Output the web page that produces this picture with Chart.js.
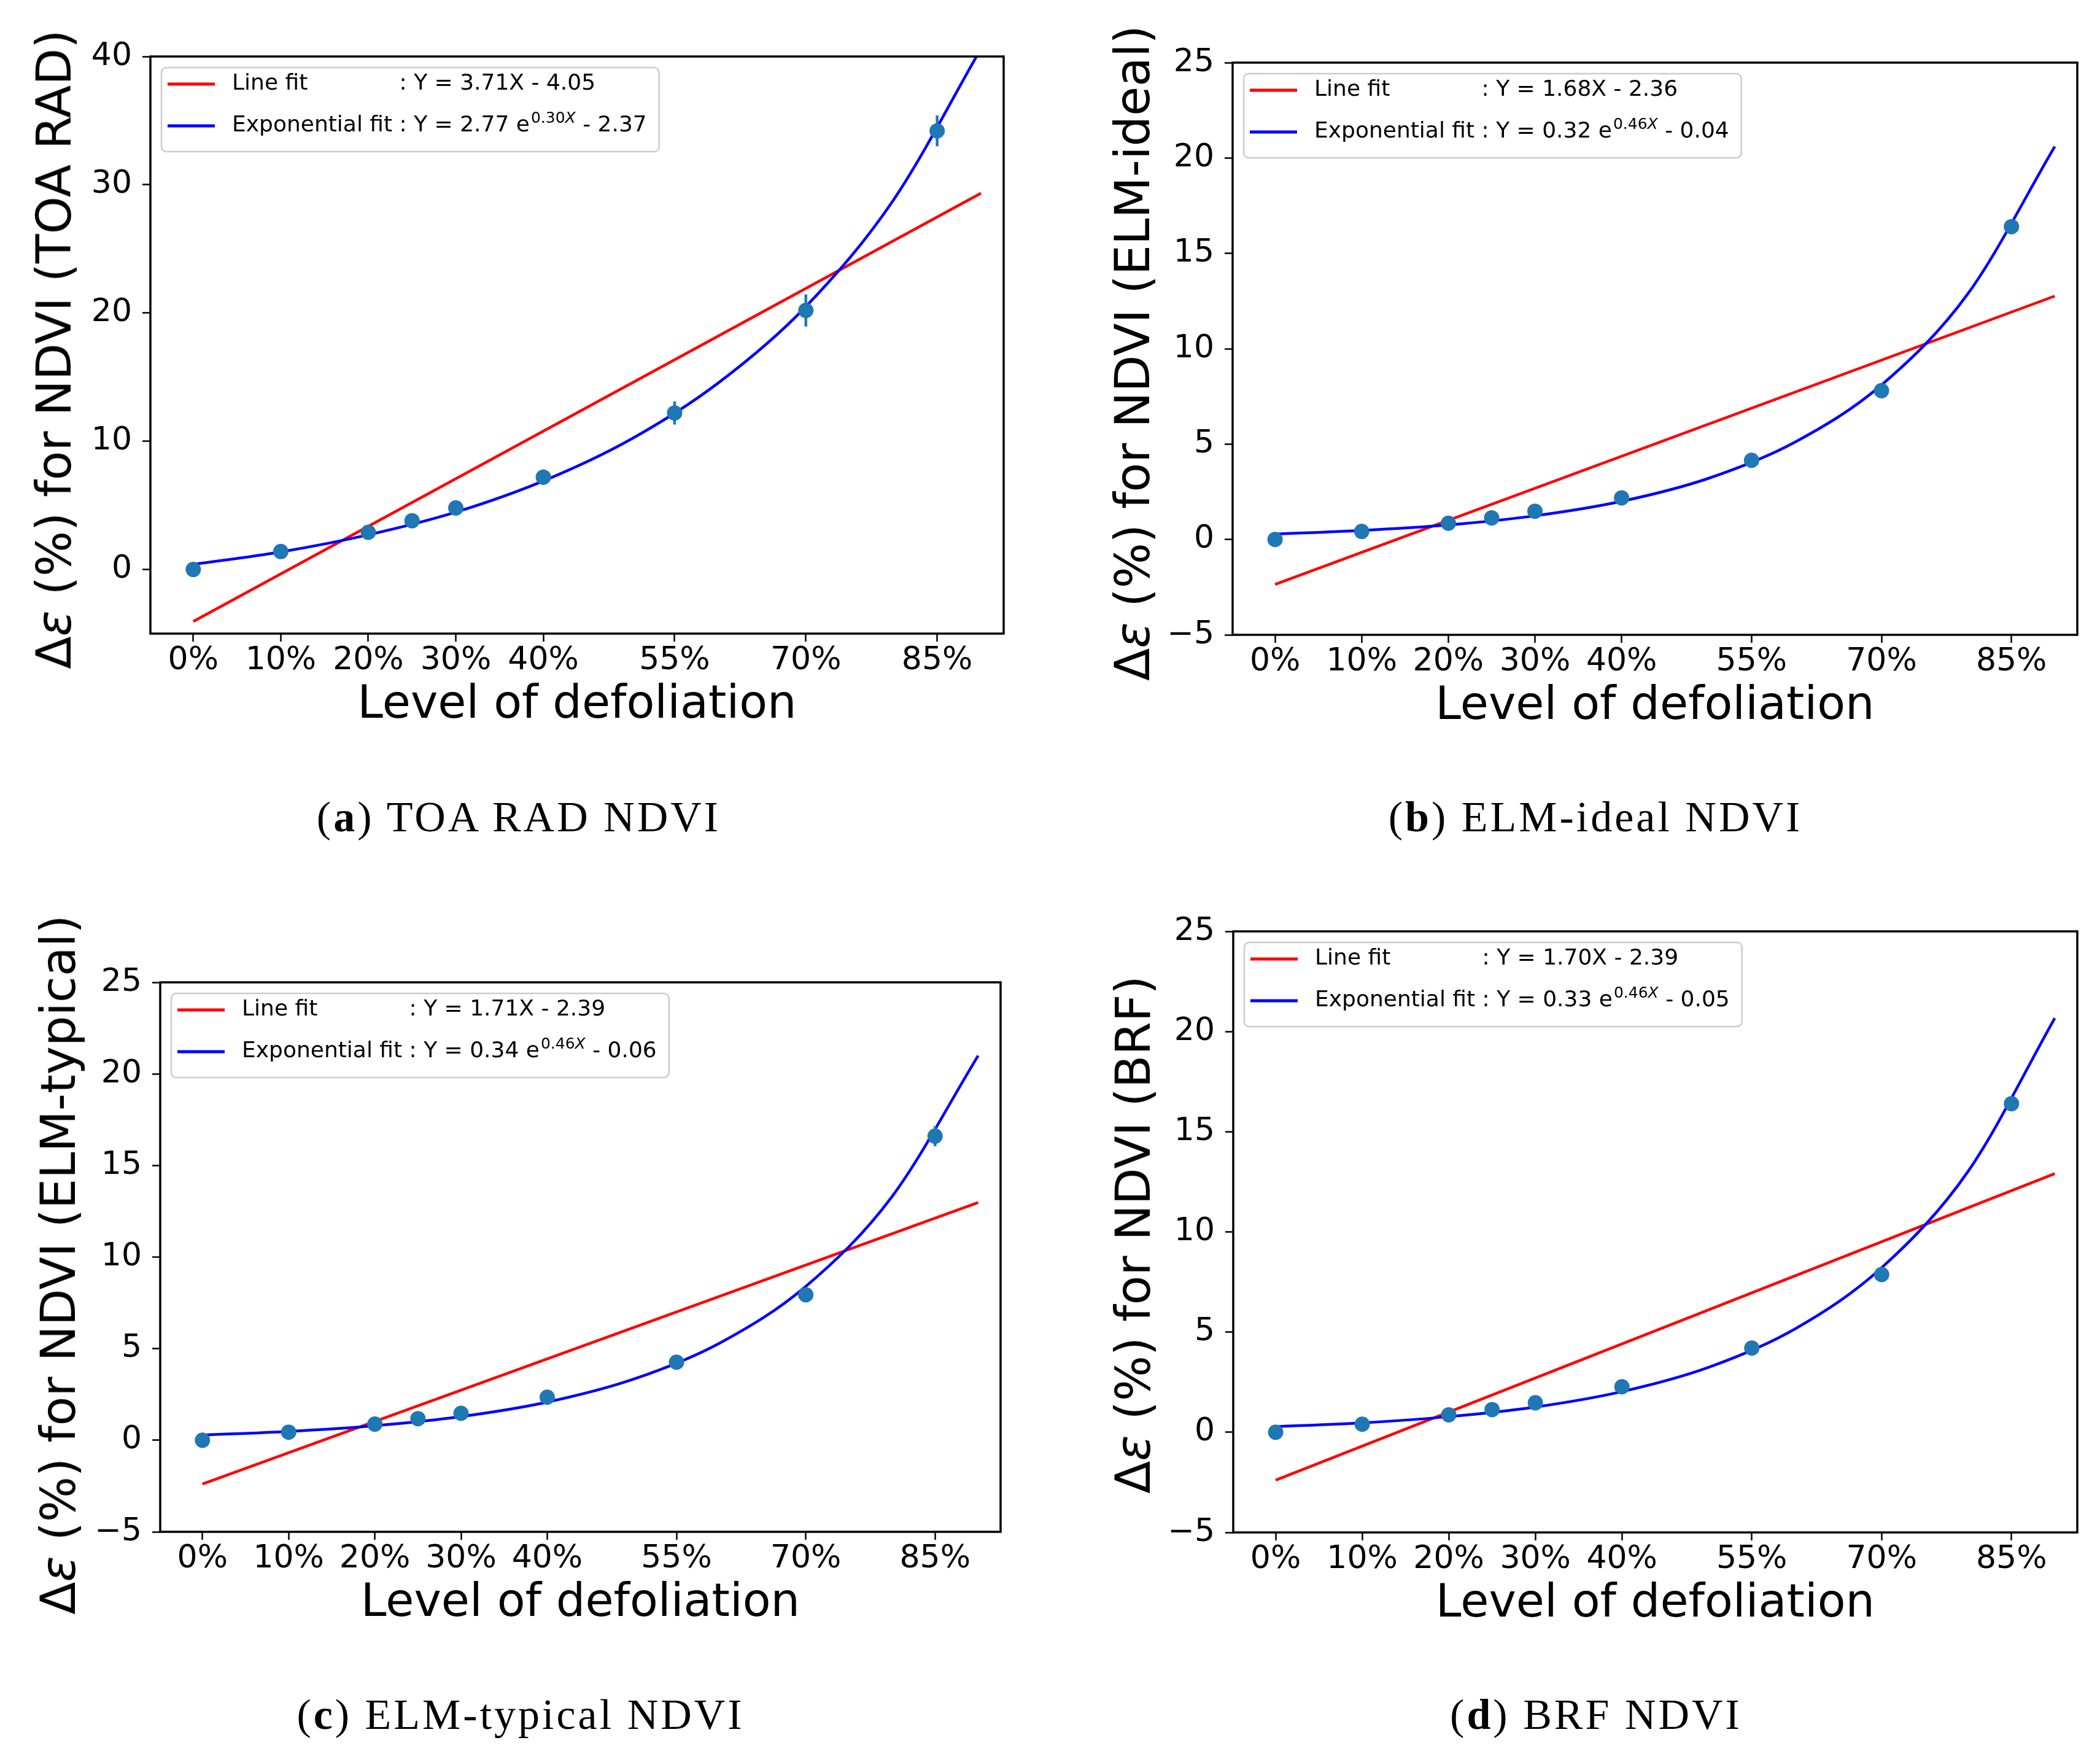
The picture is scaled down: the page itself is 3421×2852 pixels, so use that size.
<!DOCTYPE html>
<html>
<head>
<meta charset="utf-8">
<script src="https://cdn.jsdelivr.net/npm/chart.js@4.4.1/dist/chart.umd.min.js"></script>
<style>
  body { margin: 0; background: #fff; width: 3421px; height: 2852px; position: relative; overflow: hidden; }
  canvas { position: absolute; }
  .cap { position: absolute; font-family: 'Liberation Serif', serif; font-size: 70px; letter-spacing: 4px;
         color: #000; white-space: nowrap; transform: translate(-50%, -50%); }
  .ytitle { position: absolute; font-family: 'DejaVu Sans', sans-serif; font-size: 78px; line-height: 1;
            color: #000; white-space: nowrap; transform: translate(-50%, -50%) rotate(-90deg); }
</style>
</head>
<body>
<canvas id="chartA"></canvas>
<canvas id="chartB"></canvas>
<canvas id="chartC"></canvas>
<canvas id="chartD"></canvas>
<div class="ytitle" style="left:88px;top:569px">Δ<i>ε</i> (%) for NDVI (TOA RAD)</div>
<div class="ytitle" style="left:1845px;top:575px">Δ<i>ε</i> (%) for NDVI (ELM-ideal)</div>
<div class="ytitle" style="left:95px;top:2060px">Δ<i>ε</i> (%) for NDVI (ELM-typical)</div>
<div class="ytitle" style="left:1846px;top:2011px">Δ<i>ε</i> (%) for NDVI (BRF)</div>
<div class="cap" style="left:845px;top:1331px">(<b>a</b>) TOA RAD NDVI</div>
<div class="cap" style="left:2599px;top:1331px">(<b>b</b>) ELM-ideal NDVI</div>
<div class="cap" style="left:848px;top:2793px">(<b>c</b>) ELM-typical NDVI</div>
<div class="cap" style="left:2600px;top:2793px">(<b>d</b>) BRF NDVI</div>
<script>
// x = level of defoliation / 10
const levels = [0, 1, 2, 2.5, 3, 4, 5.5, 7, 8.5];
const xTickValues = [0, 1, 2, 3, 4, 5.5, 7, 8.5];
const xTickLabels = ['0%', '10%', '20%', '30%', '40%', '55%', '70%', '85%'];
const fitX = [0, 1, 2, 3, 4, 5, 6, 7, 8, 9];
const lineX = [0, 9];

const pointsA = [0.0, 1.4, 2.9, 3.8, 4.8, 7.2, 12.2, 20.2, 34.2];
const errA    = [0.1, 0.2, 0.2, 0.2, 0.3, 0.6, 0.9, 1.25, 1.2];
const lineA   = [-4.05, 29.34];
const expA    = [0.40, 1.37, 2.70, 4.47, 6.90, 10.15, 14.55, 20.5, 28.8, 40.6];

const pointsB = [0.0, 0.42, 0.85, 1.13, 1.48, 2.18, 4.15, 7.8, 16.4];
const errB    = [0.05, 0.1, 0.1, 0.1, 0.1, 0.15, 0.2, 0.25, 0.3];
const lineB   = [-2.36, 12.76];
const expB    = [0.28, 0.47, 0.76, 1.24, 2.0, 3.2, 5.1, 8.1, 12.9, 20.6];

const pointsC = [0.0, 0.44, 0.88, 1.18, 1.47, 2.35, 4.26, 7.94, 16.6];
const errC    = [0.05, 0.1, 0.1, 0.1, 0.1, 0.15, 0.2, 0.3, 0.55];
const lineC   = [-2.39, 12.98];
const expC    = [0.28, 0.48, 0.79, 1.29, 2.08, 3.33, 5.3, 8.4, 13.3, 21.0];

const pointsD = [0.0, 0.4, 0.87, 1.13, 1.47, 2.27, 4.2, 7.87, 16.4];
const errD    = [0.05, 0.1, 0.1, 0.1, 0.1, 0.15, 0.2, 0.25, 0.3];
const lineD   = [-2.39, 12.91];
const expD    = [0.28, 0.47, 0.78, 1.26, 2.03, 3.24, 5.16, 8.21, 13.03, 20.67];

const yTicksA = [0, 10, 20, 30, 40];
const yTicksBCD = [-5, 0, 5, 10, 15, 20, 25];

const FONT = "'DejaVu Sans', sans-serif";
const PAD_TOP = 60;

function drawLegend(chart, leg) {
  const { ctx, chartArea: a } = chart;
  const bx = a.left + 18, by = a.top + 18, bh = 137;
  ctx.save();
  ctx.font = '36px ' + FONT;
  const colonX = ctx.measureText('Exponential fit ').width;
  const pre = 'Exponential fit ' + leg.expPre;
  const wPre = ctx.measureText(pre).width;
  ctx.font = '25px ' + FONT;
  const wSup = ctx.measureText(leg.expSup).width;
  ctx.font = 'italic 25px ' + FONT;
  const wX = ctx.measureText('X').width;
  ctx.font = '36px ' + FONT;
  const wPost = ctx.measureText(leg.expPost).width;
  const bw = 115 + wPre + wSup + wX + wPost + 22;

  ctx.beginPath();
  ctx.roundRect(bx, by, bw, bh, 8);
  ctx.fillStyle = 'rgba(255,255,255,0.8)';
  ctx.fill();
  ctx.strokeStyle = '#cccccc';
  ctx.lineWidth = 2.5;
  ctx.stroke();

  const r1 = by + 27, r2 = by + 95;
  ctx.lineWidth = 5;
  ctx.strokeStyle = '#ff0000';
  ctx.beginPath(); ctx.moveTo(bx + 10, r1); ctx.lineTo(bx + 87, r1); ctx.stroke();
  ctx.strokeStyle = '#0000ff';
  ctx.beginPath(); ctx.moveTo(bx + 10, r2); ctx.lineTo(bx + 87, r2); ctx.stroke();

  ctx.fillStyle = '#000';
  ctx.textBaseline = 'middle';
  ctx.font = '36px ' + FONT;
  ctx.fillText('Line fit', bx + 115, r1);
  ctx.fillText(leg.line, bx + 115 + colonX, r1);
  ctx.fillText(pre, bx + 115, r2);
  let x = bx + 115 + wPre + 2;
  ctx.font = '25px ' + FONT;
  ctx.fillText(leg.expSup, x, r2 - 12);
  x += wSup;
  ctx.font = 'italic 25px ' + FONT;
  ctx.fillText('X', x, r2 - 12);
  x += wX;
  ctx.font = '36px ' + FONT;
  ctx.fillText(leg.expPost, x, r2);
  ctx.restore();
}

function makePanel(id, box, yMin, yMax, yTicks, points, errs, lineVals, expVals, leg) {
  const canvas = document.getElementById(id);
  canvas.width = box.r - box.l + 200 + 45;
  canvas.height = box.b - box.t + PAD_TOP + 200;
  canvas.style.left = (box.l - 200) + 'px';
  canvas.style.top = (box.t - PAD_TOP) + 'px';

  const extras = {
    id: 'extras_' + id,
    afterDatasetsDraw(chart) {
      const { ctx, scales: { x, y } } = chart;
      ctx.save();
      ctx.strokeStyle = '#1f77b4';
      ctx.lineWidth = 4.5;
      errs.forEach((e, i) => {
        const px = x.getPixelForValue(levels[i]);
        ctx.beginPath();
        ctx.moveTo(px, y.getPixelForValue(points[i] - e));
        ctx.lineTo(px, y.getPixelForValue(points[i] + e));
        ctx.stroke();
      });
      ctx.restore();
    },
    afterDraw(chart) {
      drawLegend(chart, leg);
      const { ctx, chartArea: a } = chart;
      ctx.save();
      ctx.strokeStyle = '#000';
      ctx.lineWidth = 3.5;
      ctx.strokeRect(a.left, a.top, a.right - a.left, a.bottom - a.top);
      ctx.restore();
    }
  };

  new Chart(canvas, {
    type: 'scatter',
    data: {
      datasets: [
        {
          data: points.map((v, i) => ({ x: levels[i], y: v })),
          pointRadius: 12.5, pointBackgroundColor: '#1f77b4', pointBorderWidth: 0
        },
        {
          type: 'line',
          data: expVals.map((v, i) => ({ x: fitX[i], y: v })),
          borderColor: '#0000ff', borderWidth: 4.5, pointRadius: 0, fill: false,
          cubicInterpolationMode: 'monotone'
        },
        {
          type: 'line',
          data: lineVals.map((v, i) => ({ x: lineX[i], y: v })),
          borderColor: '#ff0000', borderWidth: 4.5, pointRadius: 0, fill: false, tension: 0
        }
      ]
    },
    options: {
      responsive: false,
      animation: false,
      layout: { padding: { top: PAD_TOP, right: 45, left: 0, bottom: 0 } },
      plugins: { legend: { display: false }, tooltip: { enabled: false } },
      scales: {
        x: {
          type: 'linear', min: -0.49, max: 9.26,
          afterBuildTicks: s => { s.ticks = xTickValues.map(v => ({ value: v })); },
          afterFit: s => { s.height = 200; },
          ticks: { callback: (v, i) => xTickLabels[i], font: { family: FONT, size: 52 }, color: '#000',
                   padding: 0, maxRotation: 0, autoSkip: false },
          grid: { drawOnChartArea: false, tickLength: 13, tickWidth: 2.5, tickColor: '#000' },
          border: { display: false },
          title: { display: true, text: 'Level of defoliation', font: { family: FONT, size: 75 },
                   color: '#000', padding: { top: 0, bottom: 37 } }
        },
        y: {
          type: 'linear', min: yMin, max: yMax,
          afterBuildTicks: s => { s.ticks = yTicks.map(v => ({ value: v })); },
          afterFit: s => { s.width = 200; },
          ticks: { callback: v => v < 0 ? '\u2212' + Math.abs(v) : String(v),
                   font: { family: FONT, size: 52 }, color: '#000', padding: 17 },
          grid: { drawOnChartArea: false, tickLength: 13, tickWidth: 2.5, tickColor: '#000' },
          border: { display: false }
        }
      }
    },
    plugins: [extras]
  });
}

makePanel('chartA', { l: 245, t: 92, r: 1635, b: 1032 }, -5, 40, yTicksA,
  pointsA, errA, lineA, expA,
  { line: ': Y = 3.71X - 4.05', expPre: ': Y = 2.77 e', expSup: '0.30', expPost: ' - 2.37' });
makePanel('chartB', { l: 2008, t: 102, r: 3384, b: 1034 }, -5, 25, yTicksBCD,
  pointsB, errB, lineB, expB,
  { line: ': Y = 1.68X - 2.36', expPre: ': Y = 0.32 e', expSup: '0.46', expPost: ' - 0.04' });
makePanel('chartC', { l: 261, t: 1600, r: 1630, b: 2495 }, -5, 25, yTicksBCD,
  pointsC, errC, lineC, expC,
  { line: ': Y = 1.71X - 2.39', expPre: ': Y = 0.34 e', expSup: '0.46', expPost: ' - 0.06' });
makePanel('chartD', { l: 2009, t: 1517, r: 3384, b: 2496 }, -5, 25, yTicksBCD,
  pointsD, errD, lineD, expD,
  { line: ': Y = 1.70X - 2.39', expPre: ': Y = 0.33 e', expSup: '0.46', expPost: ' - 0.05' });
</script>
</body>
</html>
